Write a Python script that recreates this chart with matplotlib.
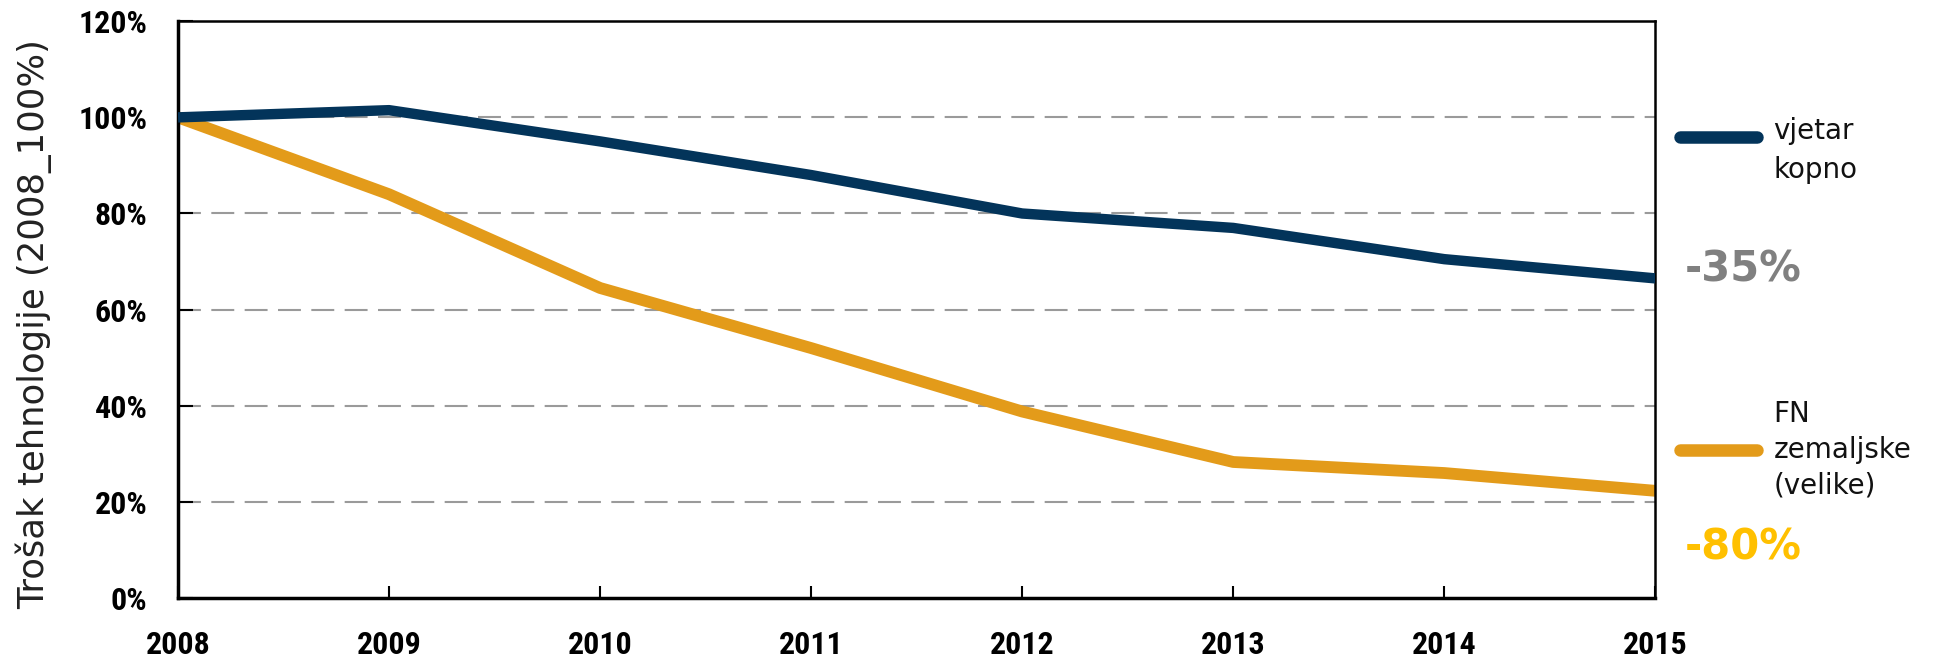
import matplotlib
matplotlib.use("Agg")
from matplotlib import pyplot as plt
from matplotlib import font_manager

# data
years = [2008, 2009, 2010, 2011, 2012, 2013, 2014, 2015]
wind = [100, 101.5, 95, 88, 80, 77, 70.5, 66.5]          # vjetar kopno
solar = [100, 84, 64.5, 52, 38.8, 28.3, 26, 22.3]         # FN zemaljske (velike)
y_ticks = [0, 20, 40, 60, 80, 100, 120]
wind_label = "vjetar\nkopno"
solar_label = "FN\nzemaljske\n(velike)"
wind_change = "-35%"
solar_change = "-80%"

NAVY = "#03345a"
ORANGE = "#e39b1a"

# a narrow bold face for the tick labels, if one is around
names = {f.name for f in font_manager.fontManager.ttflist}
narrow = None
for cand in ["Liberation Sans Narrow", "DejaVu Sans Condensed", "Roboto Condensed", "Open Sans Condensed"]:
    if cand in names:
        narrow = cand
        break
tick_font = dict(fontweight="bold", family=[narrow or "DejaVu Sans", "DejaVu Sans"])
if narrow is None:
    tick_font["fontstretch"] = "condensed"

fig = plt.figure(figsize=(19.52, 6.64), dpi=100)
ax = fig.add_axes([0.0912, 0.0994, 0.7568, 0.8686])

# dashed horizontal gridlines
for v in y_ticks[1:-1]:
    ax.axhline(v, color="#9a9a9a", lw=1.5, dashes=(11, 5), zorder=1)

ax.plot(years, wind, color=NAVY, lw=7.5, solid_capstyle="butt", zorder=3)
ax.plot(years, solar, color=ORANGE, lw=8.5, solid_capstyle="butt", zorder=2)

ax.set_xlim(years[0], years[-1])
ax.set_ylim(y_ticks[0], y_ticks[-1])
ax.set_xticks(years)
ax.set_xticklabels([str(y) for y in years], fontsize=23, **tick_font)
ax.set_yticks(y_ticks)
ax.set_yticklabels([f"{v}%" for v in y_ticks], fontsize=23, **tick_font)
ax.tick_params(axis="x", direction="in", length=9, width=1.5, pad=23)
ax.tick_params(axis="y", direction="in", length=11, width=1.5, pad=22)

for side in ["left", "bottom"]:
    ax.spines[side].set_linewidth(2.5)
for side in ["top", "right"]:
    ax.spines[side].set_linewidth(1.8)

ax.set_ylabel("Trošak tehnologije (2008_100%)", fontsize=25.5, color="#222222")
ax.yaxis.set_label_coords(-0.085, 0.475)

# legend drawn by hand to the right of the plot
tr = ax.transAxes
ax.plot([1.017, 1.069], [0.80, 0.80], transform=tr, color=NAVY, lw=9,
        solid_capstyle="round", clip_on=False)
ax.text(1.080, 0.776, wind_label, transform=tr, fontsize=20, va="center",
        ha="left", linespacing=1.5, color="#111111")
ax.plot([1.017, 1.069], [0.257, 0.257], transform=tr, color=ORANGE, lw=9,
        solid_capstyle="round", clip_on=False)
ax.text(1.080, 0.257, solar_label, transform=tr, fontsize=20, va="center",
        ha="left", linespacing=1.35, color="#111111")

ax.text(1.020, 0.570, wind_change, transform=tr, fontsize=30, fontweight="bold",
        color="#808080", va="center", ha="left")
ax.text(1.020, 0.088, solar_change, transform=tr, fontsize=30, fontweight="bold",
        color="#ffc000", va="center", ha="left")

fig.savefig("out.png", dpi=100)
